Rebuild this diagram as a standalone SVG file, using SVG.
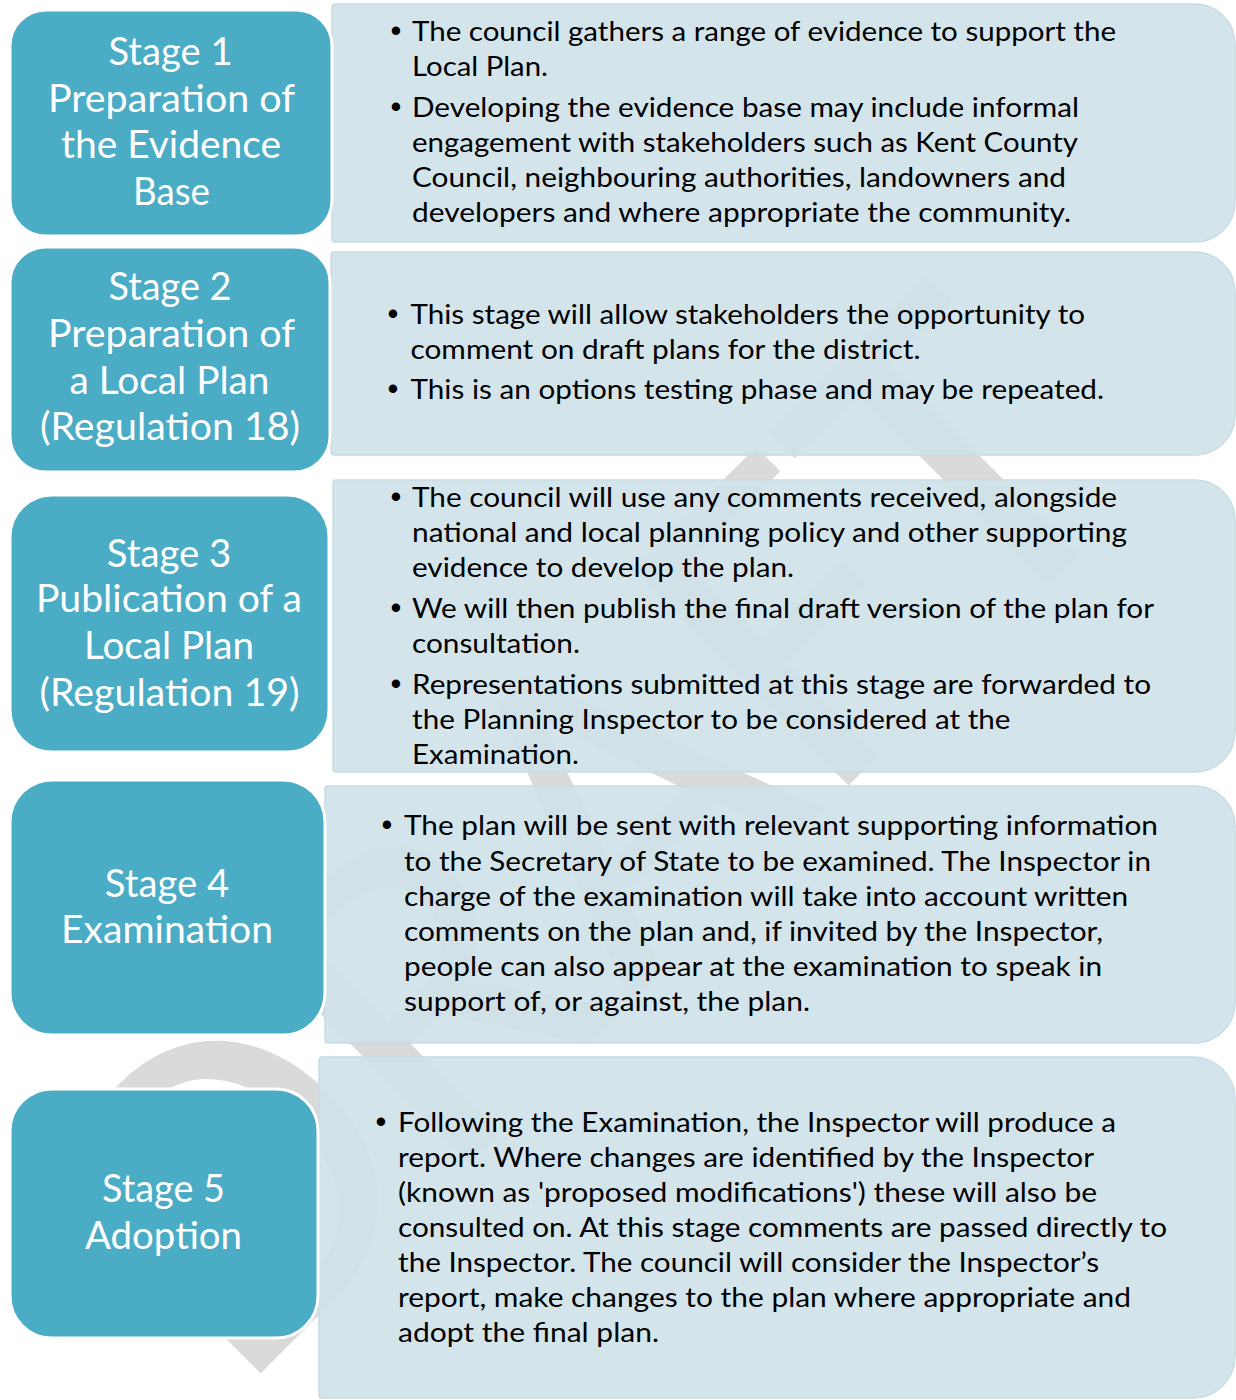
<svg xmlns="http://www.w3.org/2000/svg" width="1236" height="1400" viewBox="0 0 1236 1400">
  <style>
    .watermark { font-family: Carlito, Lato, "Liberation Sans", sans-serif; fill: #dadada; }
    .stage { fill: #4BACC6; stroke: #ffffff; stroke-width: 3; }
    .detail { fill: #CFE1E9; fill-opacity: 0.9; stroke: #c9dce4; stroke-width: 1.5; }
    .title { font-family: Lato, "Open Sans", sans-serif; font-size: 38.5px; fill: #ffffff; text-anchor: middle; }
    .body { font-family: Lato, "Open Sans", sans-serif; font-size: 27px; fill: #000000; }
    .bullet { font-family: "Liberation Sans", Arial, sans-serif; font-size: 31px; fill: #000000; text-anchor: middle; }
  </style>

  <rect width="1236" height="1400" fill="#ffffff"/>

  <!-- diagonal background watermark -->
  <text class="watermark" x="692" y="942" font-size="475" text-anchor="middle" textLength="1285" lengthAdjust="spacingAndGlyphs" transform="rotate(-45 692 942)">DRAFT</text>

  <!-- Stage 1 -->
  <g id="stage1">
    <path class="detail" d="M335,4 H1195 A40 40 0 0 1 1235,44 V202 A40 40 0 0 1 1195,242 H335 Q332,242 332,239 V7 Q332,4 335,4 Z"/>
    <rect class="stage" x="10" y="10" width="322" height="226" rx="36" ry="36"/>
    <text class="title" x="170.5" y="65" textLength="124" lengthAdjust="spacingAndGlyphs">Stage 1</text>
    <text class="title" x="171.5" y="111.7" textLength="247" lengthAdjust="spacingAndGlyphs">Preparation of</text>
    <text class="title" x="171" y="158.3" textLength="220" lengthAdjust="spacingAndGlyphs">the Evidence</text>
    <text class="title" x="171.5" y="204.5" textLength="77" lengthAdjust="spacingAndGlyphs">Base</text>
    <text class="bullet" x="396" y="40.5">•</text>
    <text class="body" x="412" y="40.5" textLength="704" lengthAdjust="spacingAndGlyphs">The council gathers a range of evidence to support the</text>
    <text class="body" x="412" y="75.5" textLength="136" lengthAdjust="spacingAndGlyphs">Local Plan.</text>
    <text class="bullet" x="396" y="116.5">•</text>
    <text class="body" x="412" y="116.5" textLength="667" lengthAdjust="spacingAndGlyphs">Developing the evidence base may include informal</text>
    <text class="body" x="412" y="151.5" textLength="666" lengthAdjust="spacingAndGlyphs">engagement with stakeholders such as Kent County</text>
    <text class="body" x="412" y="186.5" textLength="654" lengthAdjust="spacingAndGlyphs">Council, neighbouring authorities, landowners and</text>
    <text class="body" x="412" y="221.5" textLength="659" lengthAdjust="spacingAndGlyphs">developers and where appropriate the community.</text>
  </g>

  <!-- Stage 2 -->
  <g id="stage2">
    <path class="detail" d="M334,252 H1195 A40 40 0 0 1 1235,292 V415 A40 40 0 0 1 1195,455 H334 Q331,455 331,452 V255 Q331,252 334,252 Z"/>
    <rect class="stage" x="10" y="247" width="320" height="225" rx="36" ry="36"/>
    <text class="title" x="170" y="300" textLength="123" lengthAdjust="spacingAndGlyphs">Stage 2</text>
    <text class="title" x="171.5" y="346.7" textLength="247" lengthAdjust="spacingAndGlyphs">Preparation of</text>
    <text class="title" x="169.5" y="394" textLength="200" lengthAdjust="spacingAndGlyphs">a Local Plan</text>
    <text class="title" x="170" y="440" textLength="260" lengthAdjust="spacingAndGlyphs">(Regulation 18)</text>
    <text class="bullet" x="393" y="323.5">•</text>
    <text class="body" x="410.5" y="323.5" textLength="674.5" lengthAdjust="spacingAndGlyphs">This stage will allow stakeholders the opportunity to</text>
    <text class="body" x="410.5" y="358.5" textLength="510" lengthAdjust="spacingAndGlyphs">comment on draft plans for the district.</text>
    <text class="bullet" x="393" y="398.5">•</text>
    <text class="body" x="410.5" y="398.5" textLength="693.5" lengthAdjust="spacingAndGlyphs">This is an options testing phase and may be repeated.</text>
  </g>

  <!-- Stage 3 -->
  <g id="stage3">
    <path class="detail" d="M336,480 H1195 A40 40 0 0 1 1235,520 V732 A40 40 0 0 1 1195,772 H336 Q333,772 333,769 V483 Q333,480 336,480 Z"/>
    <rect class="stage" x="10" y="495" width="319" height="257" rx="42" ry="42"/>
    <text class="title" x="169" y="566.5" textLength="124.5" lengthAdjust="spacingAndGlyphs">Stage 3</text>
    <text class="title" x="169" y="612" textLength="266" lengthAdjust="spacingAndGlyphs">Publication of a</text>
    <text class="title" x="169" y="659" textLength="170" lengthAdjust="spacingAndGlyphs">Local Plan</text>
    <text class="title" x="169.5" y="705.6" textLength="260" lengthAdjust="spacingAndGlyphs">(Regulation 19)</text>
    <text class="bullet" x="396" y="507">•</text>
    <text class="body" x="412" y="507" textLength="705" lengthAdjust="spacingAndGlyphs">The council will use any comments received, alongside</text>
    <text class="body" x="412" y="542" textLength="715" lengthAdjust="spacingAndGlyphs">national and local planning policy and other supporting</text>
    <text class="body" x="412" y="577" textLength="382" lengthAdjust="spacingAndGlyphs">evidence to develop the plan.</text>
    <text class="bullet" x="396" y="618">•</text>
    <text class="body" x="412" y="618" textLength="742" lengthAdjust="spacingAndGlyphs">We will then publish the final draft version of the plan for</text>
    <text class="body" x="412" y="653" textLength="168" lengthAdjust="spacingAndGlyphs">consultation.</text>
    <text class="bullet" x="396" y="693.5">•</text>
    <text class="body" x="412" y="693.5" textLength="739" lengthAdjust="spacingAndGlyphs">Representations submitted at this stage are forwarded to</text>
    <text class="body" x="412" y="728.5" textLength="598.5" lengthAdjust="spacingAndGlyphs">the Planning Inspector to be considered at the</text>
    <text class="body" x="412" y="763.5" textLength="167" lengthAdjust="spacingAndGlyphs">Examination.</text>
  </g>

  <!-- Stage 4 -->
  <g id="stage4">
    <path class="detail" d="M328,786 H1195 A40 40 0 0 1 1235,826 V1003 A40 40 0 0 1 1195,1043 H328 Q325,1043 325,1040 V789 Q325,786 328,786 Z"/>
    <rect class="stage" x="10" y="780" width="315" height="255" rx="42" ry="42"/>
    <text class="title" x="167" y="896.5" textLength="124.5" lengthAdjust="spacingAndGlyphs">Stage 4</text>
    <text class="title" x="167" y="942.8" textLength="212" lengthAdjust="spacingAndGlyphs">Examination</text>
    <text class="bullet" x="387" y="835">•</text>
    <text class="body" x="404" y="835" textLength="754" lengthAdjust="spacingAndGlyphs">The plan will be sent with relevant supporting information</text>
    <text class="body" x="404" y="870.5" textLength="747" lengthAdjust="spacingAndGlyphs">to the Secretary of State to be examined. The Inspector in</text>
    <text class="body" x="404" y="906" textLength="724" lengthAdjust="spacingAndGlyphs">charge of the examination will take into account written</text>
    <text class="body" x="404" y="941" textLength="699" lengthAdjust="spacingAndGlyphs">comments on the plan and, if invited by the Inspector,</text>
    <text class="body" x="404" y="976" textLength="698" lengthAdjust="spacingAndGlyphs">people can also appear at the examination to speak in</text>
    <text class="body" x="404" y="1011" textLength="406" lengthAdjust="spacingAndGlyphs">support of, or against, the plan.</text>
  </g>

  <!-- Stage 5 -->
  <g id="stage5">
    <path class="detail" d="M322,1057 H1193 A42 42 0 0 1 1235,1099 V1356 A42 42 0 0 1 1193,1398 H322 Q319,1398 319,1395 V1060 Q319,1057 322,1057 Z"/>
    <rect class="stage" x="10" y="1089" width="308" height="249" rx="42" ry="42"/>
    <text class="title" x="163.5" y="1201.7" textLength="123" lengthAdjust="spacingAndGlyphs">Stage 5</text>
    <text class="title" x="163.5" y="1249" textLength="157" lengthAdjust="spacingAndGlyphs">Adoption</text>
    <text class="bullet" x="381" y="1132">•</text>
    <text class="body" x="398" y="1132" textLength="718" lengthAdjust="spacingAndGlyphs">Following the Examination, the Inspector will produce a</text>
    <text class="body" x="398" y="1167" textLength="696" lengthAdjust="spacingAndGlyphs">report. Where changes are identified by the Inspector</text>
    <text class="body" x="398" y="1202" textLength="699" lengthAdjust="spacingAndGlyphs">(known as 'proposed modifications') these will also be</text>
    <text class="body" x="398" y="1237" textLength="769" lengthAdjust="spacingAndGlyphs">consulted on. At this stage comments are passed directly to</text>
    <text class="body" x="398" y="1272" textLength="701" lengthAdjust="spacingAndGlyphs">the Inspector. The council will consider the Inspector’s</text>
    <text class="body" x="398" y="1307" textLength="733" lengthAdjust="spacingAndGlyphs">report, make changes to the plan where appropriate and</text>
    <text class="body" x="398" y="1342" textLength="261" lengthAdjust="spacingAndGlyphs">adopt the final plan.</text>
  </g>
</svg>
